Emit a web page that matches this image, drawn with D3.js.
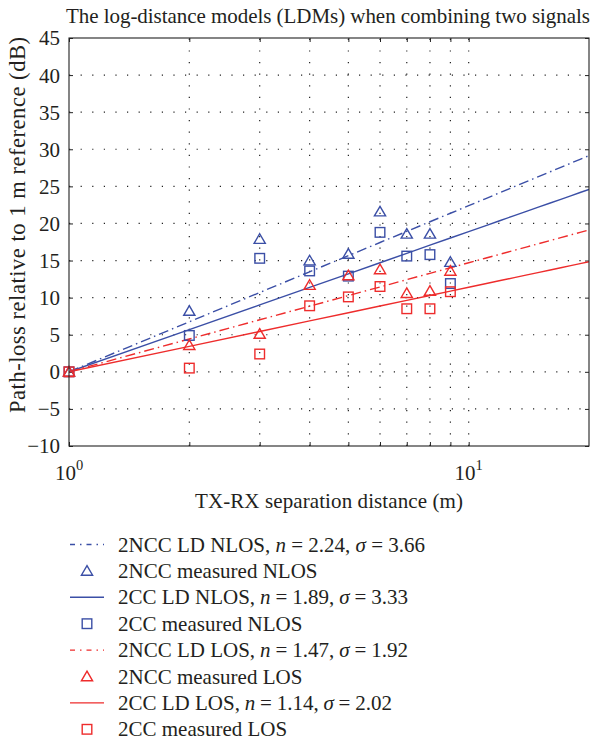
<!DOCTYPE html>
<html>
<head>
<meta charset="utf-8">
<script src="https://cdn.jsdelivr.net/npm/d3@7"></script>
<style>
  body { margin: 0; background: #fff; }
  text { font-family: "Liberation Serif", "Times New Roman", serif; fill: #231f20; }
</style>
</head>
<body>
<svg id="chart" width="595" height="742"></svg>
<script>
// Measured path loss (dB, relative to 1 m) at each TX-RX distance (m)
const distances = [1, 2, 3, 4, 5, 6, 7, 8, 9];
const nccMeasuredNlos = [0, 8.2, 17.9, 15.0, 15.9, 21.6, 18.6, 18.6, 14.8];
const ccMeasuredNlos  = [0, 4.9, 15.3, 13.6, 12.9, 18.8, 15.6, 15.8, 11.9];
const nccMeasuredLos  = [0, 3.6, 5.1, 11.7, 13.0, 13.8, 10.6, 10.9, 13.6];
const ccMeasuredLos   = [0, 0.5, 2.4, 8.9, 10.1, 11.5, 8.5, 8.5, 10.8];

// Log-distance model parameters: PL(d) = 10 n log10(d)
const modelNames = ["2NCC LD NLOS", "2CC LD NLOS", "2NCC LD LOS", "2CC LD LOS"];
const modelExponents = [2.24, 1.89, 1.47, 1.14];
const modelSigmas = [3.66, 3.33, 1.92, 2.02];
const modelDistances = [1, 2, 3, 4, 5, 6, 7, 8, 9, 10, 11, 12, 13, 14, 15, 16, 17, 18, 19, 20];

// Axis ticks
const yTicks = [-10, -5, 0, 5, 10, 15, 20, 25, 30, 35, 40, 45];
const xTicks = [1, 2, 3, 4, 5, 6, 7, 8, 9, 10];
const xLabelTicks = [{ v: 1, base: "10", exp: "0" }, { v: 10, base: "10", exp: "1" }];

const BLUE = "#3b4fa6";
const RED = "#ee2c2c";
const DASHDOT = "10,4,1.5,4";

const svg = d3.select("#chart");
const L = 69, R = 589, T = 38, B = 446;

const x = d3.scaleLog().domain([1, 20]).range([L, R]);
const y = d3.scaleLinear().domain([-10, 45]).range([B, T]);

// Dotted grid
const grid = svg.append("g").attr("stroke", "#222").attr("stroke-width", 1.2)
  .attr("stroke-dasharray", "1.2,10.4");
grid.selectAll("line.h").data(yTicks.filter(v => v > -10 && v < 45)).join("line")
  .attr("x1", L).attr("x2", R).attr("y1", d => y(d)).attr("y2", d => y(d));
grid.selectAll("line.v").data(xTicks.filter(v => v > 1)).join("line")
  .attr("y1", B).attr("y2", T).attr("x1", d => x(d)).attr("x2", d => x(d));

// Axes with inward ticks
function styleAxis(g) {
  g.select(".domain").remove();
  g.selectAll(".tick line").attr("stroke", "#222").attr("stroke-width", 1);
  g.selectAll(".tick text").attr("fill", "#231f20")
    .style("font-family", '"Liberation Serif", "Times New Roman", serif');
}
svg.append("g").attr("transform", `translate(${L},0)`)
  .call(d3.axisLeft(y).tickValues(yTicks).tickSize(-4).tickPadding(9).tickFormat(d => d < 0 ? "\u2212" + Math.abs(d) : d))
  .call(styleAxis)
  .call(g => g.selectAll(".tick text").attr("font-size", 21).attr("dy", "0.33em"));
svg.append("g").attr("transform", `translate(${R},0)`)
  .call(d3.axisRight(y).tickValues(yTicks).tickSize(-4).tickFormat(""))
  .call(styleAxis);
svg.append("g").attr("transform", `translate(0,${B})`)
  .call(d3.axisBottom(x).tickValues(xTicks).tickSize(-4).tickFormat(""))
  .call(styleAxis);
svg.append("g").attr("transform", `translate(0,${T})`)
  .call(d3.axisTop(x).tickValues(xTicks).tickSize(-4).tickFormat(""))
  .call(styleAxis);

// Power-of-ten tick labels
const xl = svg.append("g").selectAll("text").data(xLabelTicks).join("text")
  .attr("x", d => x(d.v)).attr("y", 480).attr("text-anchor", "middle").attr("font-size", 21);
xl.append("tspan").text(d => d.base);
xl.append("tspan").attr("dy", -10).attr("font-size", 14.5).text(d => d.exp);

// Model lines
const lineGen = d3.line().x(d => x(d[0])).y(d => y(d[1]));
const modelStyles = [
  { color: BLUE, dash: DASHDOT },
  { color: BLUE, dash: null },
  { color: RED, dash: DASHDOT },
  { color: RED, dash: null }
];
svg.append("clipPath").attr("id", "plotClip").append("rect")
  .attr("x", L).attr("y", T).attr("width", R - L).attr("height", B - T);
const plot = svg.append("g").attr("clip-path", "url(#plotClip)");
modelExponents.forEach((n, i) => {
  const pts = modelDistances.map(d => [d, 10 * n * Math.log10(d)]);
  plot.append("path").attr("d", lineGen(pts)).attr("fill", "none")
    .attr("stroke", modelStyles[i].color).attr("stroke-width", 1.4)
    .attr("stroke-dasharray", modelStyles[i].dash);
});

// Markers
function triangle(g, cx, cy, color) {
  const w = 5.6, h = 9.6;
  g.append("path")
    .attr("d", `M${cx},${cy - h * 0.55}L${cx + w},${cy + h * 0.45}L${cx - w},${cy + h * 0.45}Z`)
    .attr("fill", "none").attr("stroke", color).attr("stroke-width", 1.4);
}
function square(g, cx, cy, color) {
  const s = 9.6;
  g.append("rect").attr("x", cx - s / 2).attr("y", cy - s / 2).attr("width", s).attr("height", s)
    .attr("fill", "none").attr("stroke", color).attr("stroke-width", 1.4);
}
const markerSeries = [
  { values: nccMeasuredNlos, shape: triangle, color: BLUE },
  { values: ccMeasuredNlos, shape: square, color: BLUE },
  { values: nccMeasuredLos, shape: triangle, color: RED },
  { values: ccMeasuredLos, shape: square, color: RED }
];
const marks = svg.append("g");
markerSeries.forEach(s => {
  s.values.forEach((v, i) => s.shape(marks, x(distances[i]), y(v), s.color));
});

// Plot frame
svg.append("rect").attr("x", L).attr("y", T).attr("width", R - L).attr("height", B - T)
  .attr("fill", "none").attr("stroke", "#222").attr("stroke-width", 1.1);

// Title and axis labels
svg.append("text").attr("x", 328).attr("y", 23).attr("text-anchor", "middle")
  .attr("font-size", 21).attr("textLength", 524)
  .text("The log-distance models (LDMs) when combining two signals");
svg.append("text").attr("x", 329).attr("y", 508).attr("text-anchor", "middle")
  .attr("font-size", 21).attr("textLength", 268)
  .text("TX-RX separation distance (m)");
svg.append("text").attr("transform", "translate(25,225) rotate(-90)").attr("text-anchor", "middle")
  .attr("font-size", 22.5).attr("textLength", 376)
  .text("Path-loss relative to 1 m reference (dB)");

// Legend
const legendRows = [
  { kind: "line", model: 0, width: 307 },
  { kind: "mark", series: 0, label: "2NCC measured NLOS" },
  { kind: "line", model: 1, width: 290 },
  { kind: "mark", series: 1, label: "2CC measured NLOS" },
  { kind: "line", model: 2, width: 290 },
  { kind: "mark", series: 2, label: "2NCC measured LOS" },
  { kind: "line", model: 3, width: 274 },
  { kind: "mark", series: 3, label: "2CC measured LOS" }
];
const legend = svg.append("g");
legendRows.forEach((row, i) => {
  const cy = 544.5 + i * 26.4;
  if (row.kind === "line") {
    const st = modelStyles[row.model];
    legend.append("line").attr("x1", 70).attr("x2", 104).attr("y1", cy).attr("y2", cy)
      .attr("stroke", st.color).attr("stroke-width", 1.4).attr("stroke-dasharray", st.dash ? "5,5,1.5,5" : null);
    const t = legend.append("text").attr("x", 118).attr("y", cy + 7).attr("font-size", 21);
    const parts = [
      { s: modelNames[row.model] + ",", it: false },
      { s: " n", it: true },
      { s: " =", it: false },
      { s: " " + modelExponents[row.model].toFixed(2) + ",", it: false },
      { s: " \u03c3", it: true },
      { s: " =", it: false },
      { s: " " + modelSigmas[row.model].toFixed(2), it: false }
    ];
    const spans = parts.map(p => t.append("tspan").attr("font-style", p.it ? "italic" : null).text(p.s));
    // widen the math spacing so the entry reaches its row width
    const extra = (row.width - t.node().getComputedTextLength()) / (spans.length - 1);
    spans.slice(1).forEach(sp => sp.attr("dx", extra));
  } else {
    const s = markerSeries[row.series];
    s.shape(legend, 87, cy, s.color);
    legend.append("text").attr("x", 118).attr("y", cy + 7).attr("font-size", 21).text(row.label);
  }
});
</script>
</body>
</html>
